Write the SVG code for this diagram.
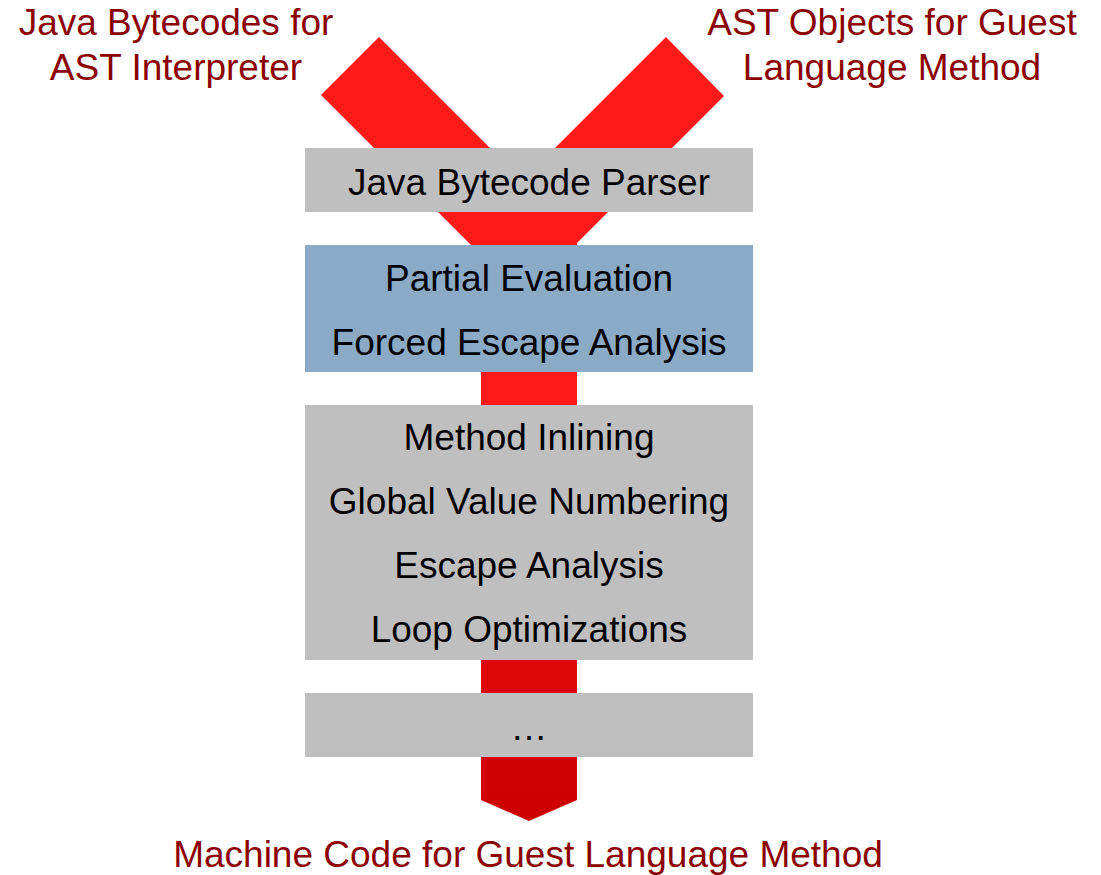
<svg xmlns="http://www.w3.org/2000/svg" width="1101" height="875" viewBox="0 0 1101 875">
  <style>
    .stage { fill: #BFBFBF; }
    .stage-pe { fill: #8AAAC5; }
    .label { font-family: "Liberation Sans", Arial, sans-serif; font-size: 37px; fill: #000000; text-anchor: middle; }
    .io { font-family: "Liberation Sans", Arial, sans-serif; font-size: 37px; fill: #8B0000; text-anchor: middle; }
  </style>
  <defs>
    <linearGradient id="flowFill" gradientUnits="userSpaceOnUse" x1="0" y1="37" x2="0" y2="821">
      <stop offset="0" stop-color="#FF1A1A"/>
      <stop offset="0.45" stop-color="#FF1818"/>
      <stop offset="0.973" stop-color="#CF0000"/>
      <stop offset="1" stop-color="#CF0000"/>
    </linearGradient>
  </defs>
  <rect width="1101" height="875" fill="#FFFFFF"/>

  <!-- Y-shaped flow: two inputs merging into one downward arrow -->
  <g id="connectors">
    <polygon fill="url(#flowFill)" points="379,37 522.5,180.5 666,37 724,96 577,243 577,800 529,821 481,800 481,255 321,95"/>
  </g>

  <!-- inputs and output -->
  <g id="input-bytecodes">
    <text class="io" x="176" y="35">Java Bytecodes for</text>
    <text class="io" x="176" y="80">AST Interpreter</text>
  </g>
  <g id="input-ast">
    <text class="io" x="892" y="35">AST Objects for Guest</text>
    <text class="io" x="892" y="80">Language Method</text>
  </g>
  <g id="output-machine-code">
    <text class="io" x="528" y="867">Machine Code for Guest Language Method</text>
  </g>

  <!-- compiler stages -->
  <g id="stage-parser">
    <rect class="stage" x="305" y="148" width="448" height="64"/>
    <text class="label" x="529" y="195">Java Bytecode Parser</text>
  </g>
  <g id="stage-partial-evaluation">
    <rect class="stage-pe" x="305" y="245" width="448" height="127"/>
    <text class="label" x="529" y="291">Partial Evaluation</text>
    <text class="label" x="529" y="355">Forced Escape Analysis</text>
  </g>
  <g id="stage-optimizations">
    <rect class="stage" x="305" y="405" width="448" height="255"/>
    <text class="label" x="529" y="450">Method Inlining</text>
    <text class="label" x="529" y="514">Global Value Numbering</text>
    <text class="label" x="529" y="578">Escape Analysis</text>
    <text class="label" x="529" y="642">Loop Optimizations</text>
  </g>
  <g id="stage-more">
    <rect class="stage" x="305" y="693" width="448" height="64"/>
    <text class="label" x="529" y="740">…</text>
  </g>
</svg>
